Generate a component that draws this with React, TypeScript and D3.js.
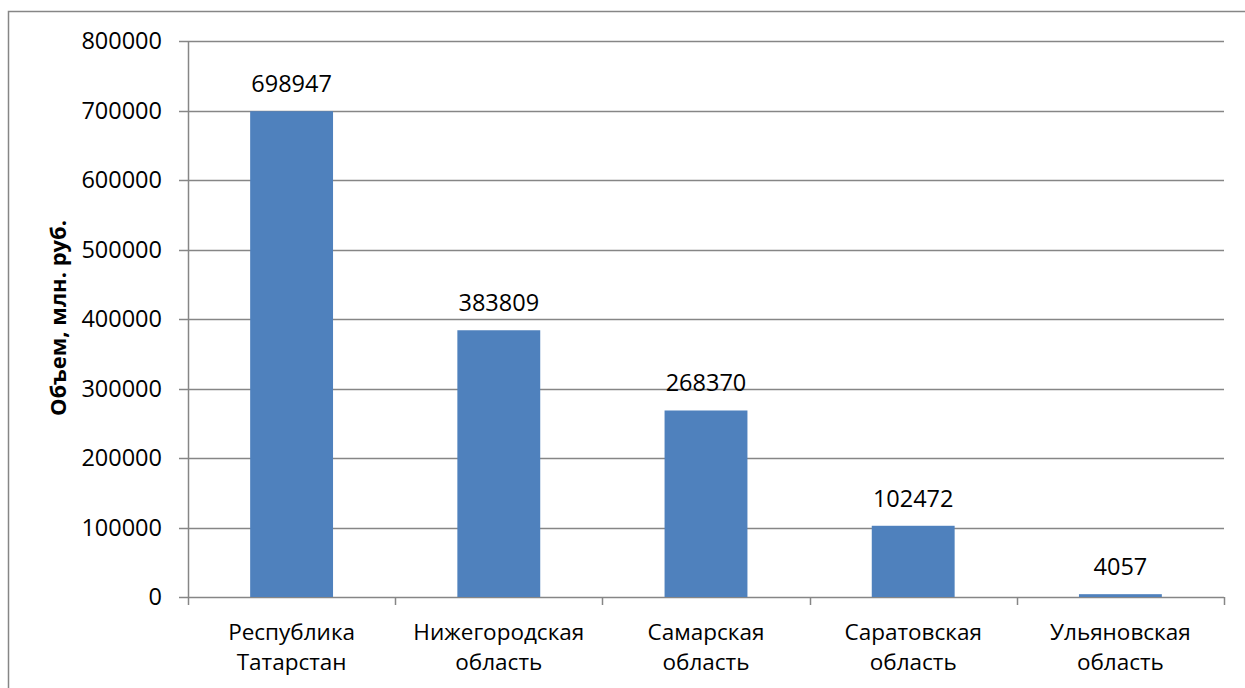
import React, { useRef, useEffect } from 'react';
import * as d3 from 'd3';

const regions: string[][] = [
    ['Республика', 'Татарстан'],
    ['Нижегородская', 'область'],
    ['Самарская', 'область'],
    ['Саратовская', 'область'],
    ['Ульяновская', 'область'],
];
const volumes = [698947, 383809, 268370, 102472, 4057];
const yTicks = [0, 100000, 200000, 300000, 400000, 500000, 600000, 700000, 800000];
const yTitle = 'Объем, млн. руб.';

const App: React.FC = () => {
    const svgRef = useRef<SVGSVGElement>(null);
    const width = 1245;
    const height = 688;

    useEffect(() => {
        if (!svgRef.current) return;
        const svg = d3.select(svgRef.current);
        svg.selectAll('*').remove();

        const plot = { left: 188, right: 1224, top: 41, bottom: 597 };
        const font = '"Open Sans", "Liberation Sans", sans-serif';
        const axisColor = '#868686';

        // outer chart frame (cropped on right/bottom in the original)
        svg.append('rect')
            .attr('x', 8.5)
            .attr('y', 11.5)
            .attr('width', width + 20)
            .attr('height', height + 20)
            .attr('fill', 'white')
            .attr('stroke', axisColor)
            .attr('stroke-width', 1.5);

        const xScale = d3.scaleBand<number>()
            .domain(d3.range(regions.length))
            .range([plot.left, plot.right])
            .padding(0);

        const yScale = d3.scaleLinear()
            .domain([0, 800000])
            .range([plot.bottom, plot.top]);

        // gridlines
        svg.append('g')
            .selectAll('line')
            .data(yTicks)
            .join('line')
            .attr('x1', plot.left - 9)
            .attr('x2', plot.right)
            .attr('y1', d => Math.round(yScale(d)) + 0.5)
            .attr('y2', d => Math.round(yScale(d)) + 0.5)
            .attr('stroke', axisColor)
            .attr('stroke-width', 1.5);

        // y tick labels
        svg.append('g')
            .selectAll('text')
            .data(yTicks)
            .join('text')
            .attr('x', 162)
            .attr('y', d => yScale(d))
            .attr('dy', '0.36em')
            .attr('text-anchor', 'end')
            .attr('font-family', font)
            .attr('font-size', 23.5)
            .attr('fill', '#000')
            .text(d => String(d));

        // y axis line
        svg.append('line')
            .attr('x1', plot.left + 0.5)
            .attr('x2', plot.left + 0.5)
            .attr('y1', plot.top)
            .attr('y2', plot.bottom)
            .attr('stroke', axisColor)
            .attr('stroke-width', 1.5);

        // x category boundary ticks
        const boundaries = d3.range(regions.length + 1).map(i => plot.left + i * xScale.step());
        svg.append('g')
            .selectAll('line')
            .data(boundaries)
            .join('line')
            .attr('x1', d => Math.round(d) + 0.5)
            .attr('x2', d => Math.round(d) + 0.5)
            .attr('y1', plot.bottom)
            .attr('y2', plot.bottom + 8)
            .attr('stroke', axisColor)
            .attr('stroke-width', 1.5);

        // bars
        const barW = xScale.bandwidth() * 0.4;
        svg.append('g')
            .selectAll('rect')
            .data(volumes)
            .join('rect')
            .attr('x', (d, i) => (xScale(i) as number) + (xScale.bandwidth() - barW) / 2)
            .attr('y', d => yScale(d))
            .attr('width', barW)
            .attr('height', d => plot.bottom - yScale(d))
            .attr('fill', '#4F81BD');

        // value labels
        svg.append('g')
            .selectAll('text')
            .data(volumes)
            .join('text')
            .attr('x', (d, i) => (xScale(i) as number) + xScale.bandwidth() / 2)
            .attr('y', d => yScale(d) - 19)
            .attr('text-anchor', 'middle')
            .attr('font-family', font)
            .attr('font-size', 23.5)
            .attr('fill', '#000')
            .text(d => String(d));

        // category labels
        regions.forEach((lines, i) => {
            const cx = (xScale(i) as number) + xScale.bandwidth() / 2;
            const t = svg.append('text')
                .attr('x', cx)
                .attr('y', 640)
                .attr('text-anchor', 'middle')
                .attr('font-family', font)
                .attr('font-size', 22.5)
                .attr('fill', '#000');
            lines.forEach((ln, k) => {
                t.append('tspan')
                    .attr('x', cx)
                    .attr('dy', k === 0 ? 0 : 30)
                    .text(ln);
            });
        });

        // y axis title
        svg.append('text')
            .attr('transform', `translate(66,318) rotate(-90)`)
            .attr('text-anchor', 'middle')
            .attr('font-family', font)
            .attr('font-size', 22)
            .attr('font-weight', 'bold')
            .attr('fill', '#000')
            .text(yTitle);
    }, []);

    return (
        <svg
            ref={svgRef}
            width={width}
            height={height}
            style={{ position: 'absolute', left: 0, top: 0, display: 'block', background: 'white' }}
        />
    );
};

export default App;
